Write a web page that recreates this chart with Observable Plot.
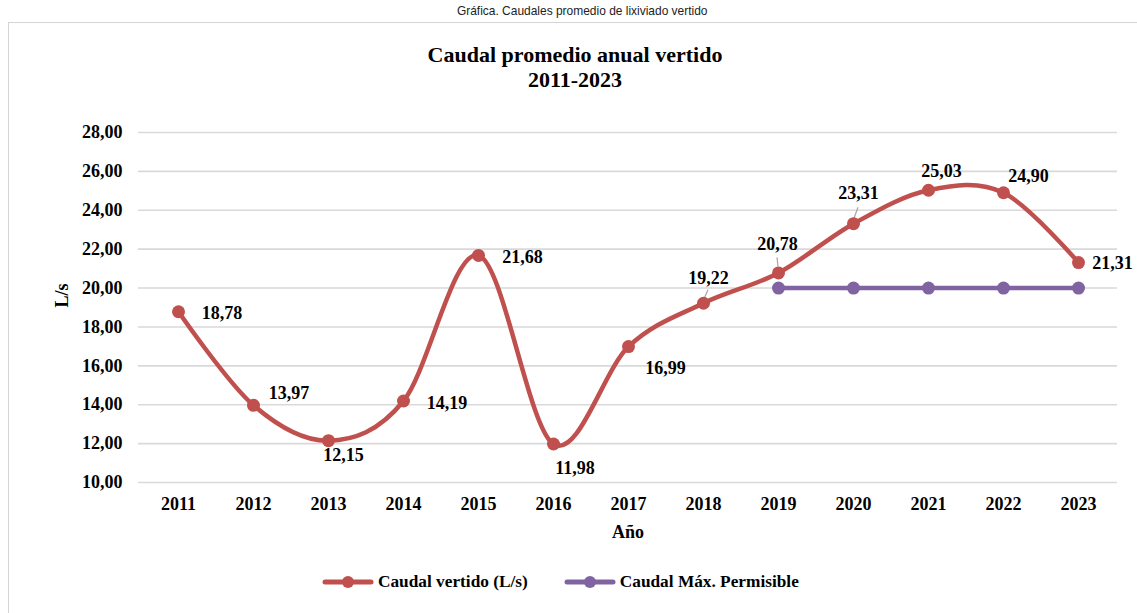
<!DOCTYPE html>
<html>
<head>
<meta charset="utf-8">
<script src="https://cdn.jsdelivr.net/npm/d3@7"></script>
<script src="https://cdn.jsdelivr.net/npm/@observablehq/plot@0.6"></script>
<style>
  body { margin: 0; background: #fff; width: 1137px; height: 613px; overflow: hidden; position: relative;
         font-family: "Liberation Serif", "Times New Roman", serif; color: #000; }
  #caption { position: absolute; top: 3px; left: 0; width: 1164px; text-align: center;
             font-family: "Liberation Sans Narrow", "Arial Narrow", "Liberation Sans", sans-serif;
             font-size: 13px; color: #222; }
  #caption span { display: inline-block; transform: scaleX(0.92); }
  #frame { position: absolute; left: 8px; top: 22px; width: 1150px; height: 620px;
           border: 1px solid #d4d4d4; box-sizing: border-box; }
  #title { position: absolute; top: 42px; left: 0; width: 1150px; text-align: center;
           font-weight: bold; font-size: 22px; line-height: 25px; }
  #chart { position: absolute; left: 0; top: 100px; }
  #legend { position: absolute; left: 322px; top: 572px; display: flex; align-items: center;
            font-weight: bold; font-size: 17.3px; line-height: 20px; }
  #legend .item { display: flex; align-items: center; margin-right: 36px; }
  #legend svg { margin-right: 4px; }
</style>
</head>
<body>
<div id="caption"><span>Gráfica. Caudales promedio de lixiviado vertido</span></div>
<div id="frame"></div>
<div id="title">Caudal promedio anual vertido<br>2011-2023</div>
<div id="chart"></div>
<div id="legend"></div>
<script>
// ---- data ----
const years = ["2011","2012","2013","2014","2015","2016","2017","2018","2019","2020","2021","2022","2023"];
const caudalVertido = [18.78, 13.97, 12.15, 14.19, 21.68, 11.98, 16.99, 19.22, 20.78, 23.31, 25.03, 24.90, 21.31];
const permYears = ["2019","2020","2021","2022","2023"];
const caudalMax = [20, 20, 20, 20, 20];
const yTicks = [10, 12, 14, 16, 18, 20, 22, 24, 26, 28];
const seriesNames = ["Caudal vertido (L/s)", "Caudal Máx. Permisible"];
const seriesColors = ["#C0504D", "#8064A2"];

// ---- label placement (pixel offsets from each point, style only) ----
const labelDx = [43.5, 35.5, 15, 43.5, 44, 21.5, 37, 5, -1, 5, 13, 25, 34];
const labelDy = [1, -12, 15, 2, 2, 24, 22, -25, -29, -30, -19, -17, 1];
// leader lines: [index, x0, y0, x1, y1] in pixel offsets from point
const leaders = [[7, 1, -4, 5, -13], [8, 0, -6, -1, -15], [9, 1, -5, 5, -16]];

const fmt = v => v.toFixed(2).replace(".", ",");
const vertido = years.map((y, i) => ({year: y, value: caudalVertido[i]}));
const maximo = permYears.map((y, i) => ({year: y, value: caudalMax[i]}));

const labelMarks = vertido.map((d, i) =>
  Plot.text([d], {x: "year", y: "value", text: e => fmt(e.value), dx: labelDx[i], dy: labelDy[i],
                  fontSize: 18, fontWeight: "bold", fill: "#000", textAnchor: "middle", lineAnchor: "middle"}));

const leaderMark = Plot.dot(leaders, {
  x: l => years[l[0]], y: l => caudalVertido[l[0]],
  render(index, scales, values) {
    const g = document.createElementNS("http://www.w3.org/2000/svg", "g");
    for (const i of index) {
      const l = leaders[i];
      const px = values.x[i], py = values.y[i];
      const ln = document.createElementNS("http://www.w3.org/2000/svg", "line");
      ln.setAttribute("x1", px + l[1]); ln.setAttribute("y1", py + l[2]);
      ln.setAttribute("x2", px + l[3]); ln.setAttribute("y2", py + l[4]);
      ln.setAttribute("stroke", "#a6a6a6"); ln.setAttribute("stroke-width", "1.2");
      g.appendChild(ln);
    }
    return g;
  }
});

const chart = Plot.plot({
  width: 1137,
  height: 460,
  marginLeft: 138,
  marginRight: 20,
  marginTop: 32,
  marginBottom: 78,
  style: {fontFamily: "'Liberation Serif', 'Times New Roman', serif", fontSize: "18px", fontWeight: "bold", color: "#000", background: "transparent", overflow: "visible"},
  x: {type: "point", domain: years, padding: 0.5, label: null},
  y: {domain: [10, 28], label: null},
  marks: [
    Plot.ruleY(yTicks, {stroke: "#d9d9d9", strokeWidth: 1.6}),
    Plot.axisY({ticks: yTicks, tickFormat: fmt, tickSize: 0, tickPadding: 16, fontSize: 18, fontWeight: "bold", label: null}),
    Plot.axisX({tickSize: 0, tickPadding: 15, fontSize: 18, fontWeight: "bold", label: null}),
    Plot.text(["L/s"], {frameAnchor: "left", dx: -76, rotate: -90, fontSize: 18, fontWeight: "bold", fill: "#000"}),
    Plot.text(["Año"], {frameAnchor: "bottom", dy: 55, fontSize: 18, fontWeight: "bold", fill: "#000"}),
    leaderMark,
    Plot.line(vertido, {x: "year", y: "value", stroke: seriesColors[0], strokeWidth: 4.5, curve: "cardinal"}),
    Plot.dot(vertido, {x: "year", y: "value", r: 6.5, fill: seriesColors[0]}),
    Plot.line(maximo, {x: "year", y: "value", stroke: seriesColors[1], strokeWidth: 4.5}),
    Plot.dot(maximo, {x: "year", y: "value", r: 6.5, fill: seriesColors[1]}),
    ...labelMarks
  ]
});
document.getElementById("chart").appendChild(chart);

// ---- legend ----
const legend = document.getElementById("legend");
seriesNames.forEach((name, i) => {
  const item = document.createElement("span");
  item.className = "item";
  item.innerHTML = `<svg width="52" height="14"><line x1="3" y1="7" x2="49" y2="7" stroke="${seriesColors[i]}" stroke-width="5" stroke-linecap="round"/><circle cx="26" cy="7" r="6" fill="${seriesColors[i]}"/></svg><span>${name}</span>`;
  legend.appendChild(item);
});
</script>
</body>
</html>
